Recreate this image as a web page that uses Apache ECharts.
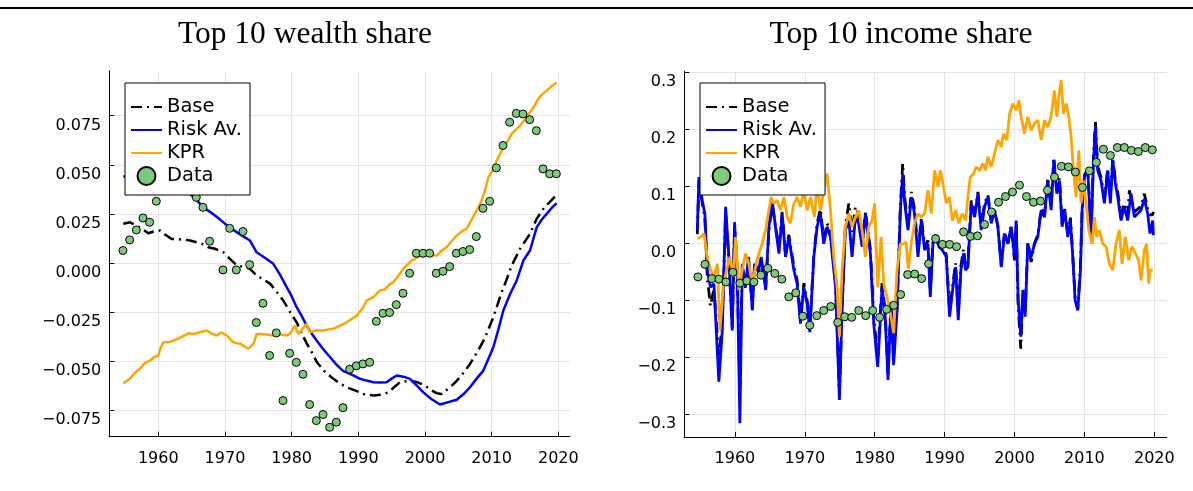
<!DOCTYPE html>
<html>
<head>
<meta charset="utf-8">
<script src="https://cdn.jsdelivr.net/npm/echarts@6/dist/echarts.min.js"></script>
<style>html,body{margin:0;padding:0;background:#fff}#c{width:1193px;height:491px}</style>
</head>
<body>
<div id="c"></div>
<script>
// ---------- DATA ----------
const titles = ['Top 10 wealth share', 'Top 10 income share'];
const seriesNames = ['Base', 'Risk Av.', 'KPR', 'Data'];
const xTicks = [1960, 1970, 1980, 1990, 2000, 2010, 2020];
const wealthYTicks = [-0.075, -0.05, -0.025, 0, 0.025, 0.05, 0.075];
const incomeYTicks = [-0.3, -0.2, -0.1, 0, 0.1, 0.2, 0.3];

const wealthBase = [[1954.75,0.0199],[1955.75,0.0207],[1956.75,0.019],[1957.5,0.0175],[1958.5,0.0151],[1959.3,0.016],[1960.25,0.0165],[1961,0.0145],[1962,0.0122],[1963,0.012],[1964,0.0118],[1964.75,0.0114],[1965.75,0.0105],[1966.5,0.0098],[1967.5,0.008],[1968.5,0.0072],[1969.75,0.0054],[1970.75,0.002],[1971.8,-0.0014],[1972.8,-0.002],[1973.75,-0.003],[1974.75,-0.0065],[1975.8,-0.0085],[1976.8,-0.0107],[1977.8,-0.015],[1978.75,-0.0192],[1979.75,-0.025],[1980.75,-0.0303],[1981.5,-0.036],[1982.3,-0.0413],[1983.1,-0.046],[1983.8,-0.0507],[1985,-0.0555],[1986.25,-0.0591],[1987.25,-0.0615],[1988.25,-0.0634],[1989.5,-0.065],[1990.75,-0.0668],[1992.25,-0.0676],[1993.5,-0.0672],[1994.5,-0.066],[1995.5,-0.063],[1996.25,-0.0608],[1997.75,-0.060],[1999,-0.061],[2000,-0.0625],[2001,-0.065],[2001.75,-0.0664],[2002.5,-0.0668],[2003.75,-0.0634],[2004.5,-0.061],[2005.25,-0.0583],[2006,-0.055],[2006.75,-0.0515],[2008,-0.0445],[2009,-0.0382],[2010.25,-0.0277],[2011.5,-0.015],[2012.3,-0.008],[2013,-0.0014],[2014.25,0.0071],[2015.75,0.0148],[2016.75,0.0224],[2017.9,0.0283],[2019,0.032],[2019.75,0.0347]];
const wealthRisk = [[1954.75,0.0441],[1956,0.0435],[1958,0.043],[1960,0.041],[1962,0.039],[1963.5,0.037],[1964.75,0.0352],[1965.75,0.032],[1966.75,0.0283],[1967.75,0.026],[1968.75,0.0235],[1970,0.02],[1971.25,0.0168],[1972.5,0.014],[1973.75,0.0114],[1974.75,0.0054],[1976.25,0.002],[1977.25,-0.0005],[1978.25,-0.006],[1979.25,-0.0124],[1980,-0.017],[1980.75,-0.0226],[1981.5,-0.027],[1982.25,-0.032],[1983,-0.036],[1983.75,-0.0396],[1984.75,-0.044],[1985.75,-0.048],[1986.75,-0.052],[1987.75,-0.0552],[1989,-0.057],[1990.25,-0.0591],[1991.25,-0.060],[1992.25,-0.0608],[1993.25,-0.061],[1994.25,-0.0608],[1995,-0.059],[1995.75,-0.0574],[1996.75,-0.058],[1997.75,-0.0591],[1998.75,-0.0625],[1999.75,-0.066],[2001,-0.0695],[2002.25,-0.0722],[2003.5,-0.071],[2004.75,-0.0698],[2005.75,-0.067],[2006.75,-0.0634],[2007.75,-0.059],[2008.75,-0.0549],[2009.5,-0.049],[2010.25,-0.043],[2011,-0.034],[2011.75,-0.0243],[2012.75,-0.016],[2013.75,-0.009],[2014.75,0.0012],[2015.75,0.0063],[2016.75,0.0181],[2017.5,0.022],[2018.25,0.025],[2019,0.028],[2019.75,0.0304]];
const wealthKpr = [[1954.75,-0.0614],[1955.75,-0.0591],[1956.5,-0.056],[1957.25,-0.054],[1958,-0.051],[1958.75,-0.0498],[1959.4,-0.048],[1960,-0.0472],[1960.4,-0.043],[1960.75,-0.0405],[1961.5,-0.0405],[1962.25,-0.0396],[1963.4,-0.038],[1964.5,-0.0359],[1965.4,-0.0362],[1966.25,-0.0354],[1967.25,-0.0345],[1968,-0.036],[1968.75,-0.037],[1969.5,-0.0355],[1970.25,-0.037],[1971.25,-0.0405],[1972.3,-0.0413],[1973.5,-0.0438],[1974.3,-0.041],[1974.75,-0.0362],[1975.25,-0.0362],[1976.25,-0.0365],[1977.25,-0.037],[1978.25,-0.0365],[1979.25,-0.037],[1979.75,-0.0362],[1980.5,-0.032],[1981,-0.0362],[1982.25,-0.0311],[1982.75,-0.0354],[1983.5,-0.0345],[1984.75,-0.0345],[1985.5,-0.034],[1986.25,-0.0336],[1987.25,-0.032],[1988.25,-0.0303],[1989.75,-0.0269],[1990.75,-0.0226],[1991.25,-0.0192],[1992.25,-0.0175],[1993.25,-0.0141],[1994,-0.0135],[1994.75,-0.0107],[1995.25,-0.0099],[1996,-0.0065],[1996.75,-0.0031],[1998,0.0012],[1999,0.003],[2000.25,0.0046],[2001.75,0.0037],[2002.5,0.0063],[2003.25,0.008],[2004,0.011],[2004.75,0.0139],[2005.5,0.016],[2006.25,0.0173],[2007,0.022],[2007.75,0.0267],[2008.4,0.031],[2009,0.0368],[2009.5,0.0436],[2010.1,0.047],[2010.75,0.0521],[2011.75,0.0589],[2012.4,0.062],[2013,0.0657],[2014.25,0.07],[2015,0.073],[2015.75,0.0768],[2016.4,0.08],[2017,0.0836],[2017.6,0.086],[2018.25,0.0878],[2019,0.09],[2019.75,0.092]];
const wealthData = [[1954.7,0.0063],[1955.7,0.0117],[1956.7,0.0168],[1957.7,0.0229],[1958.7,0.0207],[1959.7,0.0314],[1965.7,0.0334],[1966.7,0.0283],[1967.7,0.011],[1969.7,-0.0036],[1970.7,0.0176],[1971.7,-0.0036],[1972.7,0.016],[1973.7,-0.0009],[1974.7,-0.0304],[1975.7,-0.0206],[1976.7,-0.0472],[1977.7,-0.0357],[1978.7,-0.0702],[1979.7,-0.0461],[1980.7,-0.0507],[1981.7,-0.0568],[1982.7,-0.0722],[1983.7,-0.0804],[1984.7,-0.0773],[1985.7,-0.0838],[1986.7,-0.0812],[1987.7,-0.0738],[1988.7,-0.0542],[1989.7,-0.0525],[1990.7,-0.0515],[1991.7,-0.0507],[1992.7,-0.0298],[1993.7,-0.0257],[1994.7,-0.0253],[1995.7,-0.0213],[1996.7,-0.0155],[1997.7,-0.0053],[1998.7,0.0049],[1999.7,0.0049],[2000.7,0.0049],[2001.7,-0.0053],[2002.7,-0.0043],[2003.7,-0.0019],[2004.7,0.0049],[2005.7,0.0058],[2006.7,0.0068],[2007.7,0.0134],[2008.7,0.0278],[2009.7,0.0314],[2010.7,0.0484],[2011.7,0.0598],[2012.7,0.0717],[2013.7,0.0762],[2014.7,0.0759],[2015.7,0.073],[2016.7,0.0674],[2017.7,0.0479],[2018.7,0.0454],[2019.7,0.0454]];

const incomeRisk = [[1954.62,0.023],[1954.86,0.116],[1955.33,0.075],[1955.7,0.052],[1956.05,-0.047],[1956.5,-0.077],[1957,-0.071],[1957.7,-0.243],[1958.2,-0.153],[1958.67,0.064],[1959.14,-0.024],[1959.62,-0.153],[1959.95,0.037],[1960.33,-0.047],[1960.71,-0.316],[1961.05,-0.036],[1961.5,-0.077],[1961.95,-0.024],[1962.5,-0.118],[1962.8,-0.036],[1963.4,-0.047],[1963.76,-0.024],[1964.4,-0.082],[1964.86,0.029],[1965.33,0.075],[1965.8,0.029],[1966.3,-0.018],[1966.76,0.052],[1967.24,-0.024],[1967.71,0.011],[1968.43,-0.047],[1968.9,-0.071],[1969.38,-0.141],[1969.86,-0.077],[1970.33,-0.106],[1970.71,-0.156],[1971.29,-0.024],[1971.76,0.029],[1972.24,0.052],[1972.71,-0.001],[1973.19,0.029],[1973.67,0.011],[1974.4,-0.077],[1974.95,-0.275],[1975.33,-0.118],[1975.8,0.023],[1976.3,0.04],[1976.76,-0.024],[1977.24,0.046],[1977.7,0.035],[1978.2,-0.006],[1978.67,0.052],[1979.38,-0.018],[1979.86,-0.141],[1980.43,-0.217],[1981.05,-0.077],[1981.5,-0.129],[1981.9,-0.24],[1982.33,-0.106],[1982.7,-0.214],[1983.2,-0.118],[1983.67,0.058],[1984,0.122],[1984.29,0.07],[1984.76,0.023],[1985.24,0.081],[1985.7,0.052],[1986.19,-0.024],[1986.67,0.04],[1987.14,-0.012],[1987.62,-0.001],[1987.95,-0.094],[1988.33,-0.001],[1988.71,0.011],[1989.19,-0.006],[1989.67,-0.012],[1990.24,-0.024],[1990.71,-0.129],[1991.19,-0.077],[1991.57,-0.042],[1991.95,-0.135],[1992.33,-0.047],[1992.71,-0.018],[1993,-0.047],[1993.33,-0.042],[1993.81,0.07],[1994.29,0.046],[1994.76,0.087],[1995.24,0.023],[1995.71,0.064],[1996.19,0.081],[1996.67,0.035],[1997.14,0.058],[1997.62,0.029],[1998.1,-0.042],[1998.57,0.017],[1999.05,-0.001],[1999.52,0.029],[2000,-0.024],[2000.24,0.04],[2000.52,-0.1],[2000.9,-0.164],[2001.19,-0.082],[2001.52,-0.129],[2001.9,-0.001],[2002.38,-0.024],[2002.86,-0.001],[2003.33,0.011],[2003.81,0.058],[2004.29,0.046],[2004.76,0.11],[2005.24,0.058],[2005.62,0.146],[2006.05,0.087],[2006.43,0.11],[2006.81,0.029],[2007.19,0.058],[2007.62,0.011],[2008,0.04],[2008.33,-0.024],[2008.67,-0.1],[2009.05,-0.118],[2009.43,-0.047],[2009.67,0.058],[2010,0.116],[2010.48,0.128],[2010.95,0.011],[2011.29,0.14],[2011.57,0.204],[2011.9,0.128],[2012.38,0.11],[2012.86,0.07],[2013.33,0.128],[2013.71,0.07],[2014.05,0.146],[2014.43,0.105],[2014.76,0.081],[2015.24,0.04],[2015.71,0.064],[2016.19,0.04],[2016.67,0.087],[2017.14,0.046],[2017.62,0.052],[2018.1,0.058],[2018.57,0.078],[2019.05,0.052],[2019.38,0.017],[2019.76,0.04],[2019.86,0.014]];
const incomeBase = [[1954.62,0.016],[1954.86,0.11],[1955.33,0.07],[1955.7,0.045],[1956.05,-0.06],[1956.5,-0.11],[1957,-0.08],[1957.7,-0.2],[1958.2,-0.14],[1958.67,0.055],[1959.14,-0.03],[1959.62,-0.15],[1959.95,0.03],[1960.33,-0.05],[1960.71,-0.255],[1961.05,-0.04],[1961.5,-0.08],[1961.95,-0.03],[1962.5,-0.115],[1962.8,-0.04],[1963.4,-0.05],[1963.76,-0.03],[1964.4,-0.08],[1964.86,0.02],[1965.33,0.07],[1965.8,0.03],[1966.3,-0.01],[1966.76,0.055],[1967.24,-0.02],[1967.71,0.015],[1968.43,-0.04],[1968.9,-0.065],[1969.38,-0.13],[1969.86,-0.07],[1970.33,-0.1],[1970.71,-0.15],[1971.29,-0.02],[1971.76,0.035],[1972.24,0.06],[1972.71,0.005],[1973.19,0.035],[1973.67,0.02],[1974.4,-0.07],[1974.95,-0.265],[1975.33,-0.11],[1975.8,0.03],[1976.3,0.07],[1976.76,0.02],[1977.24,0.064],[1977.7,0.05],[1978.2,0.0],[1978.67,0.055],[1979.38,-0.01],[1979.86,-0.13],[1980.43,-0.2],[1981.05,-0.07],[1981.5,-0.12],[1981.9,-0.23],[1982.33,-0.1],[1982.7,-0.2],[1983.2,-0.11],[1983.67,0.065],[1984,0.14],[1984.29,0.08],[1984.76,0.03],[1985.24,0.09],[1985.7,0.06],[1986.19,-0.015],[1986.67,0.045],[1987.14,-0.005],[1987.62,0.005],[1987.95,-0.085],[1988.33,0.005],[1988.71,0.015],[1989.19,0.0],[1989.67,-0.005],[1990.24,-0.02],[1990.71,-0.12],[1991.19,-0.07],[1991.57,-0.035],[1991.95,-0.125],[1992.33,-0.04],[1992.71,-0.01],[1993,-0.04],[1993.33,-0.035],[1993.81,0.075],[1994.29,0.05],[1994.76,0.09],[1995.24,0.03],[1995.71,0.07],[1996.19,0.085],[1996.67,0.04],[1997.14,0.06],[1997.62,0.03],[1998.1,-0.039],[1998.57,0.02],[1999.05,0.0],[1999.52,0.03],[2000,-0.03],[2000.24,0.035],[2000.52,-0.11],[2000.9,-0.185],[2001.19,-0.09],[2001.52,-0.12],[2001.9,0.0],[2002.38,-0.033],[2002.86,0.0],[2003.33,0.015],[2003.81,0.06],[2004.29,0.05],[2004.76,0.115],[2005.24,0.065],[2005.62,0.15],[2006.05,0.095],[2006.43,0.115],[2006.81,0.035],[2007.19,0.06],[2007.62,0.015],[2008,0.045],[2008.33,-0.02],[2008.67,-0.095],[2009.05,-0.115],[2009.43,-0.04],[2009.67,0.06],[2010,0.12],[2010.48,0.13],[2010.95,0.02],[2011.29,0.15],[2011.57,0.215],[2011.9,0.135],[2012.38,0.115],[2012.86,0.08],[2013.33,0.13],[2013.71,0.08],[2014.05,0.15],[2014.43,0.11],[2014.76,0.09],[2015.24,0.05],[2015.71,0.07],[2016.19,0.05],[2016.43,0.093],[2016.67,0.09],[2017.14,0.055],[2017.62,0.06],[2018.1,0.065],[2018.57,0.087],[2019.05,0.06],[2019.38,0.05],[2019.76,0.05],[2019.86,0.055]];
const incomeKpr = [[1954.62,0.008],[1955.1,0.011],[1955.57,0.017],[1956.05,-0.024],[1956.52,-0.047],[1957,-0.059],[1957.48,-0.036],[1957.86,-0.153],[1958.33,-0.077],[1958.81,-0.047],[1959.29,-0.024],[1959.76,-0.059],[1960.1,0.011],[1960.57,-0.082],[1961.05,-0.047],[1961.52,-0.018],[1962,-0.036],[1962.48,-0.071],[1962.95,-0.042],[1963.43,-0.018],[1963.9,-0.001],[1964.38,0.023],[1964.86,0.058],[1965.19,0.081],[1965.57,0.07],[1966.05,0.075],[1966.52,0.058],[1967,0.081],[1967.48,0.046],[1967.95,0.035],[1968.43,0.07],[1968.9,0.081],[1969.38,0.064],[1969.86,0.093],[1970.33,0.058],[1970.81,0.081],[1971.38,0.046],[1971.76,0.105],[1972.24,0.058],[1972.71,0.093],[1973.19,0.122],[1973.67,0.058],[1974.14,-0.024],[1974.62,-0.077],[1974.95,-0.164],[1975.33,-0.047],[1975.81,0.029],[1976.29,0.052],[1976.76,0.029],[1977.24,0.046],[1977.71,0.058],[1978.19,0.023],[1978.67,-0.024],[1979.14,0.029],[1979.62,0.04],[1980,0.07],[1980.43,-0.077],[1980.9,0.011],[1981.29,-0.071],[1981.76,-0.094],[1982.24,-0.123],[1982.71,-0.158],[1983.19,-0.047],[1983.67,-0.001],[1984.14,-0.001],[1984.5,0.002],[1984.8,-0.045],[1985.24,0.002],[1985.71,0.035],[1986.19,0.052],[1986.67,0.046],[1987.14,0.052],[1987.62,0.093],[1988.1,0.052],[1988.57,0.128],[1989.05,0.099],[1989.38,0.128],[1989.76,0.105],[1990.24,0.07],[1990.71,0.081],[1991.1,0.04],[1991.57,0.058],[1992.05,0.035],[1992.52,0.052],[1993,0.04],[1993.33,0.081],[1993.67,0.116],[1994.14,0.122],[1994.52,0.134],[1995,0.128],[1995.48,0.14],[1995.86,0.128],[1996.19,0.152],[1996.67,0.134],[1997.14,0.157],[1997.62,0.181],[1998.1,0.169],[1998.43,0.192],[1998.9,0.181],[1999.29,0.227],[1999.76,0.245],[2000.24,0.233],[2000.62,0.251],[2000.95,0.222],[2001.43,0.192],[2001.9,0.222],[2002.38,0.198],[2002.86,0.21],[2003.33,0.216],[2003.81,0.181],[2004.29,0.216],[2004.76,0.204],[2005.24,0.222],[2005.71,0.268],[2006.05,0.222],[2006.33,0.257],[2006.67,0.286],[2007,0.227],[2007.38,0.245],[2007.76,0.222],[2008.1,0.187],[2008.43,0.128],[2008.81,0.081],[2009.19,0.163],[2009.52,0.07],[2009.86,0.11],[2010.24,0.07],[2010.62,0.023],[2011.1,-0.001],[2011.43,0.046],[2011.76,0.011],[2012.14,0.023],[2012.62,-0.001],[2013.1,-0.006],[2013.57,-0.036],[2014.05,-0.047],[2014.52,-0.001],[2015,0.023],[2015.38,-0.036],[2015.86,0.011],[2016.33,-0.03],[2016.81,-0.006],[2017.29,-0.018],[2017.76,-0.03],[2018.1,-0.065],[2018.57,-0.012],[2018.9,-0.001],[2019.19,-0.071],[2019.38,-0.047],[2019.76,-0.047]];
const incomeData = [[1954.71,-0.059],[1955.71,-0.037],[1956.71,-0.062],[1957.71,-0.063],[1958.71,-0.068],[1959.71,-0.051],[1960.71,-0.070],[1961.71,-0.066],[1962.71,-0.068],[1963.71,-0.056],[1964.71,-0.044],[1965.71,-0.053],[1966.71,-0.063],[1967.71,-0.094],[1968.71,-0.087],[1969.71,-0.128],[1970.71,-0.144],[1971.71,-0.127],[1972.71,-0.118],[1973.71,-0.111],[1974.71,-0.139],[1975.71,-0.129],[1976.71,-0.130],[1977.71,-0.118],[1978.71,-0.127],[1979.71,-0.118],[1980.71,-0.130],[1981.71,-0.116],[1982.71,-0.109],[1983.71,-0.090],[1984.71,-0.055],[1985.71,-0.054],[1986.71,-0.062],[1987.71,-0.036],[1988.71,0.008],[1989.71,-0.002],[1990.71,-0.002],[1991.71,-0.006],[1992.71,0.020],[1993.71,0.012],[1994.71,0.013],[1995.71,0.033],[1996.71,0.055],[1997.71,0.072],[1998.71,0.082],[1999.71,0.090],[2000.71,0.102],[2001.71,0.082],[2002.71,0.072],[2003.71,0.074],[2004.71,0.093],[2005.71,0.116],[2006.71,0.135],[2007.71,0.134],[2008.71,0.125],[2009.71,0.098],[2010.71,0.127],[2011.71,0.142],[2012.71,0.165],[2013.71,0.154],[2014.71,0.168],[2015.71,0.168],[2016.71,0.163],[2017.71,0.161],[2018.71,0.168],[2019.71,0.164]];

// ---------- CHART ----------
const FONT = 'DejaVu Sans';
const COL = {base: '#000000', risk: '#0000ff', kpr: '#ffa500', dataFill: '#7ec97a'};
const minusFmt = (dec) => (v) => { const s = Number(v).toFixed(dec); return s.replace('-', '\u2212'); };

const grids = [
  {left: 109.3, top: 71, width: 460.7, height: 365.7},
  {left: 684.3, top: 71, width: 482.4, height: 366}
];
const xRanges = [[1952.65, 2021.75], [1952.76, 2021.77]];
const yRanges = [[-0.0886, 0.0978], [-0.34, 0.3023]];
const yTickSets = [wealthYTicks, incomeYTicks];
const yDec = [3, 1];
const lineW = [2.5, 2.8];

function xAxisFor(i) {
  return {
    type: 'value', gridIndex: i, min: xRanges[i][0], max: xRanges[i][1],
    axisLine: {show: true, onZero: false, lineStyle: {color: '#000', width: 1}},
    axisTick: {show: true, inside: true, length: 5, lineStyle: {color: '#000'}, customValues: xTicks},
    axisLabel: {show: true, customValues: xTicks, color: '#000', fontFamily: FONT, fontSize: 16, margin: 14, formatter: (v) => String(v)},
    splitLine: {show: true, customValues: xTicks, lineStyle: {color: '#e5e5e5', width: 1}}
  };
}
function yAxisFor(i) {
  return {
    type: 'value', gridIndex: i, min: yRanges[i][0], max: yRanges[i][1],
    axisLine: {show: true, onZero: false, lineStyle: {color: '#000', width: 1}},
    axisTick: {show: true, inside: true, length: 5, lineStyle: {color: '#000'}, customValues: yTickSets[i]},
    axisLabel: {show: true, customValues: yTickSets[i], color: '#000', fontFamily: FONT, fontSize: 16, margin: 8,
                verticalAlign: 'top', lineHeight: 20, formatter: minusFmt(yDec[i])},
    splitLine: {show: true, customValues: yTickSets[i], lineStyle: {color: '#e5e5e5', width: 1}}
  };
}

function panelSeries(i, base, risk, kpr, data) {
  return [
    {name: seriesNames[0], type: 'line', xAxisIndex: i, yAxisIndex: i, data: base, symbol: 'none', z: 2,
     lineStyle: {color: COL.base, width: lineW[i], type: [11, 5, 2, 5], cap: 'butt'}, itemStyle: {color: COL.base}},
    {name: seriesNames[1], type: 'line', xAxisIndex: i, yAxisIndex: i, data: risk, symbol: 'none', z: 3,
     lineStyle: {color: COL.risk, width: lineW[i]}, itemStyle: {color: COL.risk}},
    {name: seriesNames[2], type: 'line', xAxisIndex: i, yAxisIndex: i, data: kpr, symbol: 'none', z: 4,
     lineStyle: {color: COL.kpr, width: lineW[i]}, itemStyle: {color: COL.kpr}},
    {name: seriesNames[3], type: 'scatter', xAxisIndex: i, yAxisIndex: i, data: data, symbol: 'circle', symbolSize: 8, z: 5,
     itemStyle: {color: COL.dataFill, borderColor: '#000', borderWidth: 1, opacity: 1}}
  ];
}

function legendFor(i, left) {
  return {
    show: true, orient: 'vertical', left: left, top: 83,
    data: seriesNames.map((n, k) => k === 3
      ? {name: n, icon: 'circle'}
      : {name: n, itemStyle: {opacity: 0}, lineStyle: {width: 2}}),
    backgroundColor: '#fff', borderColor: '#000', borderWidth: 1, borderRadius: 0,
    padding: [14, 8, 9, 5], itemGap: 3, itemWidth: 31, itemHeight: 18,
    textStyle: {fontFamily: FONT, fontSize: 19.5, color: '#000'},
    selectedMode: false, z: 10
  };
}

const chart = echarts.init(document.getElementById('c'), null, {renderer: 'canvas'});
chart.setOption({
  animation: false,
  backgroundColor: '#fff',
  grid: grids.map(g => Object.assign({containLabel: false}, g)),
  xAxis: [xAxisFor(0), xAxisFor(1)],
  yAxis: [yAxisFor(0), yAxisFor(1)],
  legend: [legendFor(0, 125), legendFor(1, 700)],
  series: [...panelSeries(0, wealthBase, wealthRisk, wealthKpr, wealthData),
           ...panelSeries(1, incomeBase, incomeRisk, incomeKpr, incomeData)],
  graphic: [
    {type: 'rect', shape: {x: 0, y: 7, width: 1193, height: 2}, style: {fill: '#000'}, silent: true},
    {type: 'text', x: 305, y: 35, style: {text: titles[0], font: '31.5px "Liberation Serif"', fill: '#000', textAlign: 'center', textVerticalAlign: 'middle'}},
    {type: 'text', x: 901, y: 35, style: {text: titles[1], font: '31.5px "Liberation Serif"', fill: '#000', textAlign: 'center', textVerticalAlign: 'middle'}}
  ]
});
</script>
</body>
</html>
